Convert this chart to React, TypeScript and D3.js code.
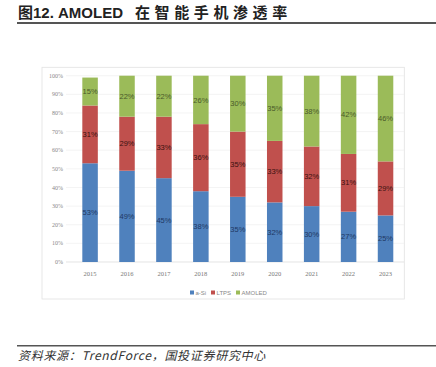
import React from 'react'
import * as d3 from 'd3'

const years = ['2015', '2016', '2017', '2018', '2019', '2020', '2021', '2022', '2023']
const aSi = [53, 49, 45, 38, 35, 32, 30, 27, 25]
const ltps = [31, 29, 33, 36, 35, 33, 32, 31, 29]
const amoled = [15, 22, 22, 26, 30, 35, 38, 42, 46]
const seriesNames = ['a-Si', 'LTPS', 'AMOLED']
const yTicks = [0, 10, 20, 30, 40, 50, 60, 70, 80, 90, 100]

const colors = ['#4F81BD', '#C0504D', '#9BBB59']
const labelColors = ['#1F3864', '#3a1010', '#4a5a2a']

export default function App() {
  const width = 436
  const height = 367

  const x = d3.scaleBand<string>().domain(years).range([71.6, 404]).paddingInner(0.58).paddingOuter(0.29)
  const y = d3.scaleLinear().domain([0, 100]).range([262, 75.7])

  const rows = years.map((yr, i) => ({ year: yr, 'a-Si': aSi[i], LTPS: ltps[i], AMOLED: amoled[i] }))
  const stacked = d3.stack<any>().keys(seriesNames)(rows)

  const legendX = [190, 211, 236]

  return (
    <svg width={width} height={height} style={{ position: 'absolute', left: 0, top: 0, background: '#fff' }}>
      <text x={18} y={18} fontSize={15} fontWeight="bold" fill="#222"
        fontFamily="'Liberation Sans', 'Noto Sans CJK SC', sans-serif">
        <tspan>图12. AMOLED </tspan>
        <tspan x={135} letterSpacing={4.6}>在智能手机渗透率</tspan>
      </text>
      <line x1={17} x2={436} y1={23} y2={23} stroke="#555" strokeWidth={2} />

      <rect x={42} y={67.3} width={362.3} height={231.7} fill="#fff" stroke="#e2e2e2" strokeWidth={0.8} />

      {yTicks.map(t => (
        <g key={t}>
          <line x1={66} x2={404} y1={y(t)} y2={y(t)} stroke={t === 0 ? '#d9d9d9' : '#efefef'} strokeWidth={0.7} />
          <text x={63} y={y(t)} dy="0.35em" textAnchor="end" fontSize={6} fill="#888"
            fontFamily="'Liberation Serif', serif">{t}%</text>
        </g>
      ))}

      {stacked.map((s, si) => (
        <g key={s.key}>
          {s.map((d, i) => {
            const bx = x(years[i])!
            const y0 = y(d[0])
            const y1 = y(d[1])
            return (
              <g key={i}>
                <rect x={bx} y={y1} width={x.bandwidth()} height={y0 - y1} fill={colors[si]} />
                <text x={bx + x.bandwidth() / 2} y={(y0 + y1) / 2} dy="0.35em" textAnchor="middle"
                  fontSize={7.5} fill={labelColors[si]} fontFamily="'Liberation Sans', sans-serif">
                  {d[1] - d[0]}%
                </text>
              </g>
            )
          })}
        </g>
      ))}

      {years.map(yr => (
        <text key={yr} x={x(yr)! + x.bandwidth() / 2} y={274} dy="0.35em" textAnchor="middle" fontSize={6.5}
          fill="#777" fontFamily="'Liberation Serif', serif">{yr}</text>
      ))}

      {seriesNames.map((n, i) => (
        <g key={n}>
          <rect x={legendX[i]} y={290.5} width={4} height={4} fill={colors[i]} />
          <text x={legendX[i] + 5.5} y={293} dy="0.35em" fontSize={6} fill="#888"
            fontFamily="'Liberation Sans', sans-serif">{n}</text>
        </g>
      ))}

      <line x1={17} x2={436} y1={345.7} y2={345.7} stroke="#555" strokeWidth={1.5} />
      <text x={18} y={360} fontSize={12} fontStyle="italic" fill="#333" letterSpacing={0.7}
        fontFamily="'Noto Sans CJK SC', 'DejaVu Sans', sans-serif">
        资料来源：TrendForce，国投证券研究中心
      </text>
    </svg>
  )
}
